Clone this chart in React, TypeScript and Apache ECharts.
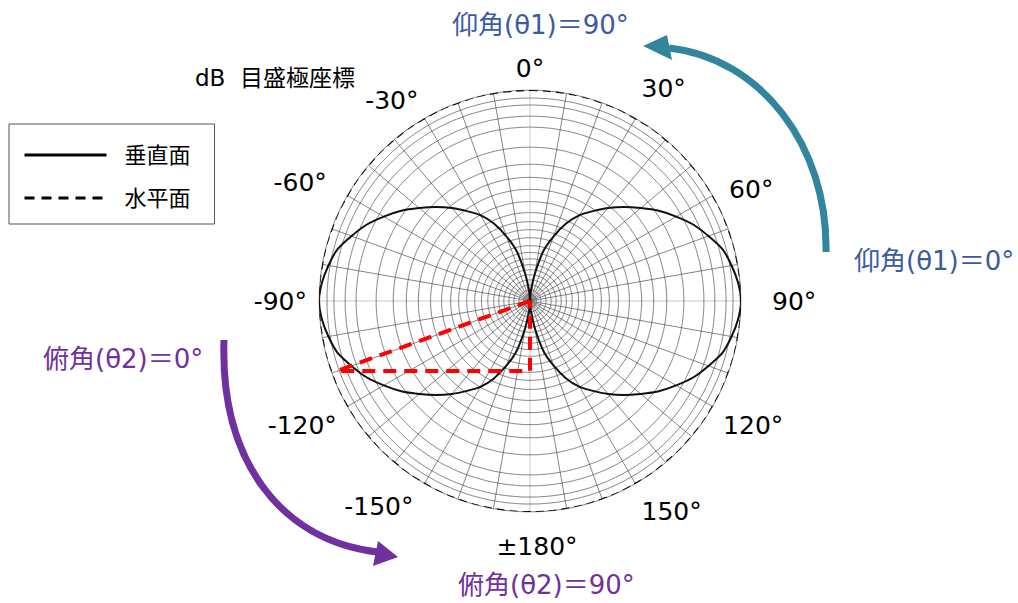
import React, { useEffect, useRef } from 'react';
import * as echarts from 'echarts';

// ---- data ----
const angleLabels = ['0°', '30°', '60°', '90°', '120°', '150°', '±180°', '-150°', '-120°', '-90°', '-60°', '-30°'];

// dB rings of the log-polar grid and their relative radius on the chart
const ringDb = [0, 0.5, 1, 1.5, 2, 3, 4, 5, 6, 7, 8, 9, 10, 11, 12, 13, 14, 15, 16, 18, 20, 25, 30, 40];
const ringRadius = [1.0, 0.962, 0.929, 0.876, 0.824, 0.729, 0.648, 0.586, 0.529, 0.471, 0.419, 0.376, 0.338, 0.3, 0.262, 0.23, 0.2, 0.172, 0.148, 0.124, 0.1, 0.076, 0.052, 0.03];

// vertical-plane pattern (垂直面): right lobe 0..180°, left lobe 180..360°
const rightLobeAngles = [0, 5, 10, 15, 20, 25, 30, 35, 40, 45, 50, 55, 60, 65, 70, 75, 80, 85, 90, 95, 100, 105, 110, 115, 120, 125, 130, 135, 140, 145, 150, 155, 160, 165, 170, 175, 180];
const rightLobe = [0, 0.05, 0.13, 0.245, 0.325, 0.405, 0.47, 0.52, 0.575, 0.63, 0.685, 0.745, 0.8, 0.855, 0.9, 0.945, 0.97, 0.99, 1.0, 0.99, 0.97, 0.945, 0.9, 0.855, 0.8, 0.745, 0.685, 0.63, 0.575, 0.52, 0.47, 0.405, 0.325, 0.245, 0.13, 0.05, 0];
const leftLobeAngles = [180, 185, 190, 195, 200, 205, 210, 215, 220, 225, 230, 235, 240, 245, 250, 255, 260, 265, 270, 275, 280, 285, 290, 295, 300, 305, 310, 315, 320, 325, 330, 335, 340, 345, 350, 355, 360];
const leftLobe = [0, 0.05, 0.13, 0.245, 0.325, 0.405, 0.47, 0.52, 0.575, 0.63, 0.685, 0.745, 0.8, 0.855, 0.9, 0.945, 0.97, 0.99, 1.0, 0.99, 0.97, 0.945, 0.9, 0.855, 0.8, 0.745, 0.685, 0.63, 0.575, 0.52, 0.47, 0.405, 0.325, 0.245, 0.13, 0.05, 0];

// horizontal-plane pattern (水平面): constant 0 dB
const horizontalAngles = [0, 10, 20, 30, 40, 50, 60, 70, 80, 90, 100, 110, 120, 130, 140, 150, 160, 170, 180, 190, 200, 210, 220, 230, 240, 250, 260, 270, 280, 290, 300, 310, 320, 330, 340, 350, 360];
const horizontalPlane = [1, 1, 1, 1, 1, 1, 1, 1, 1, 1, 1, 1, 1, 1, 1, 1, 1, 1, 1, 1, 1, 1, 1, 1, 1, 1, 1, 1, 1, 1, 1, 1, 1, 1, 1, 1, 1];

// red construction triangle
const redAngles = [0, 250.1, 180, 180];
const redRadius = [0, 0.974, 0.332, 0];

const FONT = "'DejaVu Sans', 'Noto Sans CJK JP', sans-serif";

// per-label nudges of the angle tick labels
const labelNudge: Record<number, any> = {
  0: { lineHeight: 20 },
  30: { padding: [0, 0, 7, 0] },
  60: { padding: [0, 0, 0, 6], lineHeight: 1 },
  90: { padding: [0, 0, 0, 19] },
  150: { padding: [5, 0, 0, 0] },
  180: { padding: [10, 0, 0, 14] },
  210: { padding: [0, 5, 0, 0] },
  300: { padding: [0, 10, 0, 0], lineHeight: 14 },
  330: { lineHeight: 14 },
};

export default function App() {
  const ref = useRef<HTMLDivElement>(null);

  useEffect(() => {
    if (!ref.current) return;
    const chart = echarts.init(ref.current, undefined, { renderer: 'svg' });

    const ringAngles: number[] = [];
    for (let a = 0; a <= 360; a += 5) ringAngles.push(a);

    const ringSeries = ringRadius.map((r, i) => ({
      type: 'line',
      name: 'ring' + ringDb[i],
      coordinateSystem: 'polar',
      silent: true,
      clip: false,
      symbol: 'none',
      smooth: true,
      lineStyle: { color: '#4a4a4a', width: 0.8, opacity: 0.85 },
      data: ringAngles.map((a) => [r, a]),
      z: 1,
    }));

    const rich: Record<string, any> = {};
    Object.keys(labelNudge).forEach((k) => {
      rich['p' + k] = { fontSize: 25, color: '#000', fontFamily: FONT, ...labelNudge[Number(k)] };
    });

    const splitColors = ['#b0b0b0', '#4a4a4a', '#4a4a4a', '#4a4a4a', '#4a4a4a', '#4a4a4a', '#4a4a4a', '#4a4a4a', '#4a4a4a'];

    const hiddenSymbol = { color: 'rgba(0,0,0,0)', borderWidth: 0, opacity: 0 };

    const option: any = {
      animation: false,
      polar: { center: [530, 301], radius: 211 },
      angleAxis: {
        type: 'value',
        min: 0,
        max: 360,
        interval: 10,
        startAngle: 90,
        clockwise: true,
        axisLine: { show: true, lineStyle: { color: '#aaa', width: 1 } },
        axisTick: { show: false },
        splitLine: { show: true, lineStyle: { color: splitColors, width: 0.8, opacity: 0.85 } },
        axisLabel: {
          margin: 12,
          fontSize: 25,
          color: '#000',
          fontFamily: FONT,
          rich,
          formatter: (v: number) => {
            if (v % 30 !== 0 || v >= 360) return '';
            const t = angleLabels[v / 30];
            return labelNudge[v] ? '{p' + v + '|' + t + '}' : t;
          },
        },
      },
      radiusAxis: {
        type: 'value',
        min: 0,
        max: 1,
        axisLine: { show: false },
        axisTick: { show: false },
        axisLabel: { show: false },
        splitLine: { show: false },
      },
      legend: {
        show: true,
        orient: 'vertical',
        left: 9,
        top: 124,
        itemWidth: 82,
        itemHeight: 14,
        itemGap: 21,
        padding: [20, 24, 15, 14],
        borderColor: '#555',
        borderWidth: 1,
        borderRadius: 0,
        selectedMode: false,
        itemStyle: hiddenSymbol,
        textStyle: { fontSize: 22, lineHeight: 22, color: '#000', fontFamily: FONT, padding: [0, 0, 0, 13] },
        data: [
          { name: '垂直面', itemStyle: hiddenSymbol, lineStyle: { width: 3, color: '#000', type: 'solid' } },
          { name: '水平面', itemStyle: hiddenSymbol, lineStyle: { width: 3, color: '#000', type: [10, 7] } },
        ],
      },
      series: [
        ...ringSeries,
        {
          type: 'line',
          name: '水平面',
          coordinateSystem: 'polar',
          clip: false,
          symbol: 'none',
          smooth: true,
          itemStyle: { color: '#000' },
          lineStyle: { color: '#000', width: 2.2, type: [8, 5] },
          data: horizontalAngles.map((a, i) => [horizontalPlane[i], a]),
          z: 3,
        },
        {
          type: 'line',
          name: '垂直面',
          coordinateSystem: 'polar',
          clip: false,
          symbol: 'none',
          smooth: 0.25,
          itemStyle: { color: '#111' },
          lineStyle: { color: '#111', width: 2 },
          data: rightLobeAngles.map((a, i) => [rightLobe[i], a]),
          z: 4,
        },
        {
          type: 'line',
          name: '垂直面',
          coordinateSystem: 'polar',
          clip: false,
          symbol: 'none',
          smooth: 0.25,
          itemStyle: { color: '#111' },
          lineStyle: { color: '#111', width: 2 },
          data: leftLobeAngles.map((a, i) => [leftLobe[i], a]),
          z: 4,
        },
        {
          type: 'line',
          name: 'guide',
          coordinateSystem: 'polar',
          clip: false,
          symbol: 'none',
          silent: true,
          lineStyle: { color: '#ff0000', width: 4, type: [13, 8] },
          data: redAngles.map((a, i) => [redRadius[i], a]),
          z: 5,
        },
      ],
      graphic: [
        {
          type: 'bezierCurve',
          shape: { x1: 826, y1: 252, cpx1: 828, cpy1: 145, cpx2: 760, cpy2: 58, x2: 669, y2: 48 },
          style: { stroke: '#31859c', lineWidth: 7, fill: null },
        },
        {
          type: 'polygon',
          shape: { points: [[643, 46], [667, 35], [672, 60]] },
          style: { fill: '#31859c' },
        },
        {
          type: 'bezierCurve',
          shape: { x1: 224, y1: 340, cpx1: 220, cpy1: 460, cpx2: 280, cpy2: 540, x2: 377, y2: 552 },
          style: { stroke: '#7030a0', lineWidth: 7, fill: null },
        },
        {
          type: 'polygon',
          shape: { points: [[398, 557], [378, 541], [373, 566]] },
          style: { fill: '#7030a0' },
        },
        {
          type: 'text', x: 452, y: 25,
          style: { text: '仰角(θ1)＝90°', fill: '#3a5ba0', fontSize: 26, fontFamily: FONT, verticalAlign: 'middle' },
        },
        {
          type: 'text', x: 854, y: 261,
          style: { text: '仰角(θ1)＝0°', fill: '#3a5ba0', fontSize: 26, fontFamily: FONT, verticalAlign: 'middle' },
        },
        {
          type: 'text', x: 43, y: 359,
          style: { text: '俯角(θ2)＝0°', fill: '#7030a0', fontSize: 26, fontFamily: FONT, verticalAlign: 'middle' },
        },
        {
          type: 'text', x: 458, y: 585,
          style: { text: '俯角(θ2)＝90°', fill: '#7030a0', fontSize: 26, fontFamily: FONT, verticalAlign: 'middle' },
        },
        {
          type: 'text', x: 195, y: 78,
          style: { text: 'dB  目盛極座標', fill: '#000', fontSize: 23, fontFamily: FONT, verticalAlign: 'middle' },
        },
      ],
    };

    chart.setOption(option);
    return () => chart.dispose();
  }, []);

  return (
    <div
      ref={ref}
      style={{ position: 'absolute', left: 0, top: 0, width: 1018, height: 603, background: '#fff' }}
    />
  );
}
